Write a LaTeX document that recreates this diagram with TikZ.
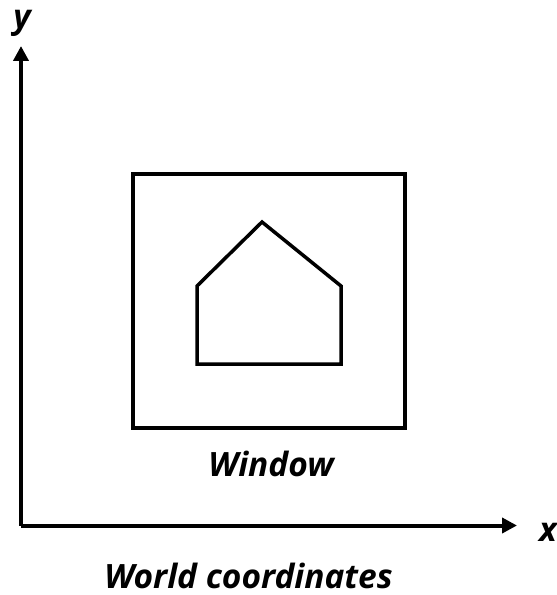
\documentclass[tikz,border=0pt]{standalone}
\usepackage{fontspec}
\setmainfont{Open Sans}
\usetikzlibrary{arrows.meta}
\begin{document}
\begin{tikzpicture}[x=1bp,y=-1bp,
  axis/.style={line width=4bp,-{Triangle[length=15bp,width=15bp]}},
  outline/.style={line width=3.5bp,line join=miter},
  lbl/.style={font=\bfseries\itshape\fontsize{33.6}{40}\selectfont,inner sep=0pt,anchor=base}]
\useasboundingbox (0,0) rectangle (557,595);
\coordinate (o) at (21,525.5);
\coordinate (ytip) at (21,46);
\coordinate (xtip) at (517,525.5);
\draw[axis] (o) -- (ytip);
\draw[axis] (o) -- (xtip);
\draw[outline] (133,174) rectangle (405,428);
\draw[outline] (197,364) -- (197,286) -- (262,222) -- (341,286) -- (341,364) -- cycle;
\node[lbl] (ylbl) at (22,29) {y};
\node[lbl] (xlbl) at (548,541) {x};
\node[lbl] (win) at (271,476) {Window};
\node[lbl] (world) at (248.5,588) {World coordinates};
\end{tikzpicture}
\end{document}
